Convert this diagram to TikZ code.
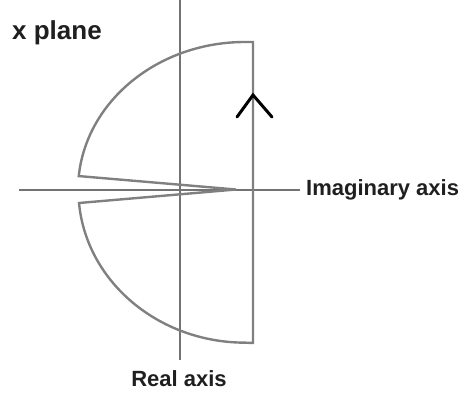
\documentclass[tikz,border=0pt]{standalone}
\usepackage{fontspec}
\setmainfont{Liberation Sans}
\usetikzlibrary{positioning}

\begin{document}
\begin{tikzpicture}[x=1pt, y=-1pt,
      axisline/.style={draw=black!55, line width=2pt},
      contour/.style={draw=black!50, line width=2.4pt, line join=miter},
      axlabel/.style={font=\bfseries\fontsize{22}{26}\selectfont,
        text=black!88, inner sep=0pt}]
    \useasboundingbox (0,0) rectangle (463,398);
    % labels
    \node[axlabel, font=\bfseries\fontsize{26}{30}\selectfont,
      anchor=base west] (plane) at (12,40) {x plane};
    \node[axlabel, anchor=west] (imag) at (306,190) {Imaginary axis};
    \node[axlabel, anchor=north] (real) at (179,370) {Real axis};
    % axes
    \coordinate (vtop) at (180,0);
    \coordinate (hleft) at (19,190);
    \draw[axisline] (vtop) -- (vtop |- real.north) [shorten >=10pt];
    \draw[axisline, shorten >=6pt] (hleft) -- (imag.west);
    % contour
    \coordinate (tip) at (236,189.5);
    \draw[contour] (253,42) -- (245,42)
      arc[start angle=-90, end angle=-174.6, x radius=167, y radius=148]
      -- (tip) -- (79,203)
      arc[start angle=175, end angle=90, x radius=167, y radius=153]
      -- (253,343) -- cycle;
    % direction mark
    \draw[black, line width=3pt, line cap=round] (237,117) -- (253,95) -- (272,117);
  \end{tikzpicture}
\end{document}
